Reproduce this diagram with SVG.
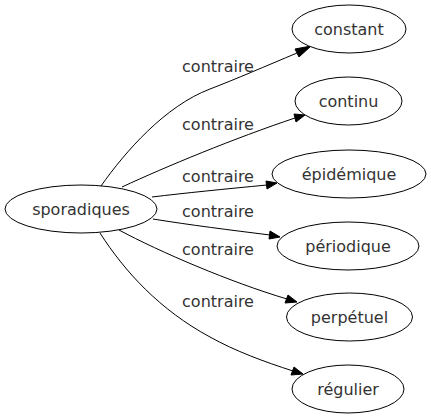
<svg xmlns="http://www.w3.org/2000/svg" width="431" height="419" viewBox="0 0 431 419">
<style>
.n ellipse{fill:#fff;stroke:#000;stroke-width:1}
text{font-family:"DejaVu Sans",sans-serif;font-size:16px;fill:#333;text-anchor:middle}
.e path{fill:none;stroke:#000;stroke-width:1}
.e polygon{fill:#000;stroke:#000;stroke-width:1}
</style>
<rect width="431" height="419" fill="#fff"/>
<g id="connectors" class="e">
<path d="M101,186 C125,152 165,106 210,89 C236,79 266,66 297,53"/>
<polygon points="311,46 299,57 295,49"/>
<path d="M122,187 C165,167 235,138 295,118"/>
<polygon points="305,115 296,122 294,114"/>
<path d="M152,197 C185,193 225,189 267,185"/>
<polygon points="277,183 267,189 266,181"/>
<path d="M153,219 C190,225 230,230 270,235"/>
<polygon points="280,237 269,239 270,231"/>
<path d="M119,230 C160,252 230,282 287,299"/>
<polygon points="297,302 285,303 288,295"/>
<path d="M100,233 C125,272 160,310 210,337 C235,351 265,362 293,371"/>
<polygon points="303,374 291,375 294,367"/>
<text x="218" y="72">contraire</text>
<text x="218" y="130">contraire</text>
<text x="218" y="182">contraire</text>
<text x="218" y="217">contraire</text>
<text x="218" y="255">contraire</text>
<text x="218" y="307">contraire</text>
</g>
<g id="sporadiques" class="n"><ellipse cx="81" cy="209" rx="76" ry="24"/><text x="81" y="215">sporadiques</text></g>
<g id="constant" class="n"><ellipse cx="349" cy="29" rx="57" ry="24"/><text x="349" y="35">constant</text></g>
<g id="continu" class="n"><ellipse cx="348.5" cy="101" rx="53.5" ry="24"/><text x="348.5" y="107">continu</text></g>
<g id="epidemique" class="n"><ellipse cx="349" cy="174" rx="77" ry="24"/><text x="349" y="180">épidémique</text></g>
<g id="periodique" class="n"><ellipse cx="348" cy="246" rx="71" ry="24"/><text x="348" y="252">périodique</text></g>
<g id="perpetuel" class="n"><ellipse cx="349.5" cy="317" rx="63" ry="24"/><text x="349.5" y="323">perpétuel</text></g>
<g id="regulier" class="n"><ellipse cx="348" cy="389" rx="56" ry="24"/><text x="348" y="395">régulier</text></g>
</svg>
